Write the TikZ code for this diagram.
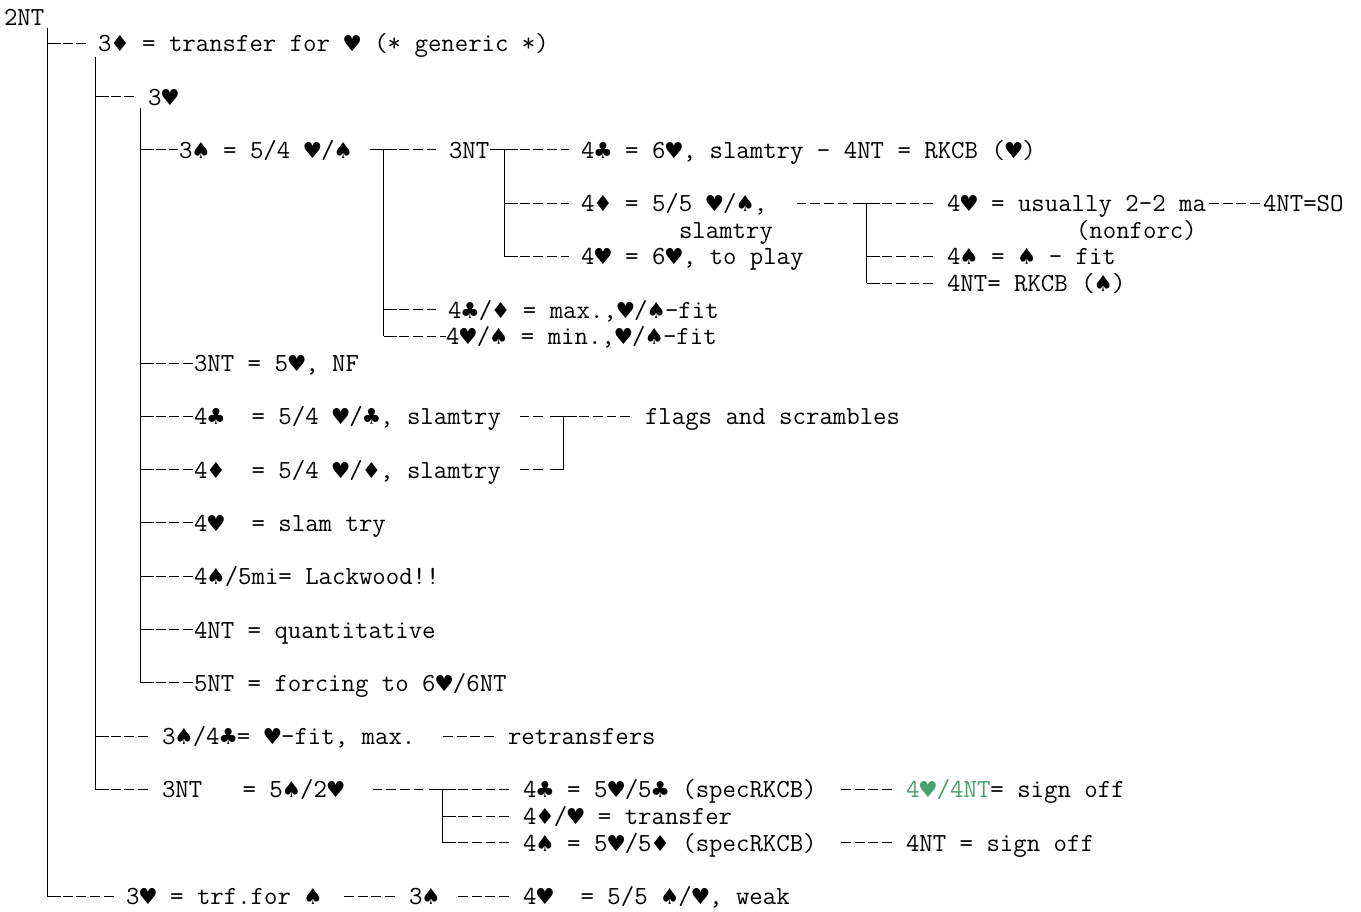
\documentclass[tikz,border=0pt]{standalone}
\usepackage{fontspec}
\newfontfamily\suitfont{DejaVu Sans}
\usetikzlibrary{calc}
\definecolor{sgreen}{RGB}{72,160,110}
\newcommand\suit[1]{\makebox[13pt]{\suitfont\fontsize{16.5pt}{16.5pt}\selectfont #1}}
\newcommand\spd{\suit{♠}}
\newcommand\hrt{\suit{♥}}
\newcommand\dmd{\suit{♦}}
\newcommand\clb{\suit{♣}}
\begin{document}
\begin{tikzpicture}[x=0.75pt,y=-0.75pt,
  txt/.style={anchor=base west,inner sep=0pt,outer sep=0pt,font=\ttfamily\fontsize{19.55pt}{20pt}\selectfont},
  tree/.style={line width=0.7pt},
  dashrun/.style={line width=0.8pt,dash pattern=on 7.4pt off 2.87pt,dash phase=8.77pt}]
\useasboundingbox (0,0) rectangle (1361,912);
% ---------- text nodes ----------
\node[txt] (n2NT)    at (4,25.1)      {2NT};
\node[txt] (n3D)     at (98,51.75)    {3\dmd{} = transfer for \hrt{} (* generic *)};
\node[txt] (n3H)     at (148,105.05)  {3\hrt};
\node[txt] (n3S)     at (179,158.35)  {3\spd{} = 5/4 \hrt/\spd};
\node[txt] (n3NT)    at (449,158.35)  {3NT};
\node[txt] (n4C1)    at (581,158.35)  {4\clb{} = 6\hrt, slamtry - 4NT = RKCB (\hrt)};
\node[txt] (n4D1)    at (581,211.65)  {4\dmd{} = 5/5 \hrt/\spd,};
\node[txt] (n4Hus)   at (947,211.65)  {4\hrt{} = usually 2-2 ma};
\node[txt] (n4NTSO)  at (1263,211.65) {4NT=SO};
\node[txt] (nslam)   at (679,238.3)   {slamtry};
\node[txt] (nnonf)   at (1076,238.3)  {(nonforc)};
\node[txt] (n4H6)    at (581,264.95)  {4\hrt{} = 6\hrt, to play};
\node[txt] (n4Sfit)  at (947,264.95)  {4\spd{} = \spd{} - fit};
\node[txt] (n4NTR)   at (947,291.6)   {4NT= RKCB (\spd)};
\node[txt] (n4CDmax) at (448,318.25)  {4\clb/\dmd{} = max.,\hrt/\spd-fit};
\node[txt] (n4HSmin) at (446,344.9)   {4\hrt/\spd{} = min.,\hrt/\spd-fit};
\node[txt] (n3NTnf)  at (194,371.55)  {3NT = 5\hrt, NF};
\node[txt] (n4Cs)    at (194,424.85)  {4\clb\ \ = 5/4 \hrt/\clb, slamtry};
\node[txt] (nflags)  at (645,424.85)  {flags and scrambles};
\node[txt] (n4Ds)    at (194,478.15)  {4\dmd\ \ = 5/4 \hrt/\dmd, slamtry};
\node[txt] (n4Hst)   at (194,531.45)  {4\hrt\ \ = slam try};
\node[txt] (n4S5)    at (194,584.75)  {4\spd/5mi= Lackwood!!};
\node[txt] (n4NTq)   at (194,638.05)  {4NT = quantitative};
\node[txt] (n5NT)    at (194,691.35)  {5NT = forcing to 6\hrt/6NT};
\node[txt] (n3S4C)   at (162,744.65)  {3\spd/4\clb= \hrt-fit, max.};
\node[txt] (nretr)   at (508,744.65)  {retransfers};
\node[txt] (n3NTb)   at (162,797.95)  {3NT\ \ \ = 5\spd/2\hrt};
\node[txt] (n4Cspec) at (523,797.95)  {4\clb{} = 5\hrt/5\clb{} (specRKCB)};
\node[txt] (nsign1)  at (906,797.95)  {{\color{sgreen}4\hrt/4NT}= sign off};
\node[txt] (n4DHtr)  at (523,824.6)   {4\dmd/\hrt{} = transfer};
\node[txt] (n4Sspec) at (523,851.25)  {4\spd{} = 5\hrt/5\dmd{} (specRKCB)};
\node[txt] (nsign2)  at (906,851.25)  {4NT = sign off};
\node[txt] (n3Htrf)  at (126,904.55)  {3\hrt{} = trf.for \spd};
\node[txt] (n3Sb)    at (409,904.55)  {3\spd};
\node[txt] (n4Hweak) at (523,904.55)  {4\hrt\ \ = 5/5 \spd/\hrt, weak};
% ---------- junctions ----------
\coordinate (v1top) at (47,28);
\coordinate (j1)  at (47,43.25);
\coordinate (j33) at (47,896.05);
\coordinate (v2top) at (95,57);
\coordinate (j3)  at (95,96.55);
\coordinate (j27) at (95,736.15);
\coordinate (j29) at (95,789.45);
\coordinate (v3top) at (140,108);
\coordinate (k5)  at (140,149.85);
\coordinate (k13) at (140,363.05);
\coordinate (k15) at (140,416.35);
\coordinate (k17) at (140,469.65);
\coordinate (k19) at (140,522.95);
\coordinate (k21) at (140,576.25);
\coordinate (k23) at (140,629.55);
\coordinate (k25) at (140,682.85);
\coordinate (m5)  at (383.5,149.85);
\coordinate (m11) at (383.5,309.75);
\coordinate (m12) at (383.5,336.4);
\coordinate (p5)  at (504,149.85);
\coordinate (p7)  at (504,203.15);
\coordinate (p9)  at (504,256.45);
\coordinate (q7)  at (866.5,203.15);
\coordinate (q9)  at (866.5,256.45);
\coordinate (q10) at (866.5,283.1);
\coordinate (s15) at (563.5,416.35);
\coordinate (s17) at (563.5,469.65);
\coordinate (t29) at (442.5,789.45);
\coordinate (t30) at (442.5,816.1);
\coordinate (t31) at (442.5,842.75);
% ---------- vertical trunks ----------
\draw[tree] (v1top) -- (j33);
\draw[tree] (v2top) -- (j29);
\draw[tree] (v3top) -- (k25);
\draw[tree] (m5) -- (m12);
\draw[tree] (p5) -- (p9);
\draw[tree] (q7) -- (q10);
\draw[tree] (s15) -- (s17);
\draw[tree] (t29) -- (t31);
% ---------- branch stubs ----------
\foreach \j in {j1,j33,j3,j27,j29,k5,k13,k15,k17,k19,k21,k23,k25,m11,m12,p7,p9,q9,q10,t30,t31}
  \draw[tree] (\j) -- ++(13.7,0);
\foreach \j in {m5,p5,q7,s15,t29}
  \draw[tree] ($(\j)+(-13.7,0)$) -- ($(\j)+(13.7,0)$);
\draw[tree] ($(s17)+(-13.7,0)$) -- (s17);
% ---------- dashed runs ----------
\draw[dashrun] ($(j1)+(13.7,0)$) -- ($(n3D.base west)+(-12,-8.5)$);
\draw[dashrun] ($(j3)+(13.7,0)$) -- ($(n3H.base west)+(-12,-8.5)$);
\draw[dashrun] ($(k5)+(13.7,0)$) -- ($(n3S.base west)+(-1,-8.5)$);
\draw[dashrun] ($(m5)+(13.7,0)$) -- ($(n3NT.base west)+(-12,-8.5)$);
\draw[dashrun] ($(p5)+(13.7,0)$) -- ($(n4C1.base west)+(-12,-8.5)$);
\draw[dashrun] ($(p7)+(13.7,0)$) -- ($(n4D1.base west)+(-12,-8.5)$);
\draw[dashrun] ($(q7)+(-72,0)$) -- ($(q7)+(-17,0)$);
\draw[dashrun] ($(q7)+(13.7,0)$) -- ($(n4Hus.base west)+(-12,-8.5)$);
\draw[dashrun] ($(n4NTSO.base west)+(-56,-8.5)$) -- ($(n4NTSO.base west)+(-1,-8.5)$);
\draw[dashrun] ($(p9)+(13.7,0)$) -- ($(n4H6.base west)+(-12,-8.5)$);
\draw[dashrun] ($(q9)+(13.7,0)$) -- ($(n4Sfit.base west)+(-12,-8.5)$);
\draw[dashrun] ($(q10)+(13.7,0)$) -- ($(n4NTR.base west)+(-12,-8.5)$);
\draw[dashrun] ($(m11)+(13.7,0)$) -- ($(n4CDmax.base west)+(-12,-8.5)$);
\draw[dashrun] ($(m12)+(13.7,0)$) -- ($(n4HSmin.base west)+(0,-8.5)$);
\draw[dashrun] ($(k13)+(13.7,0)$) -- ($(n3NTnf.base west)+(-1,-8.5)$);
\draw[dashrun] ($(k15)+(13.7,0)$) -- ($(n4Cs.base west)+(-1,-8.5)$);
\draw[dashrun] ($(k17)+(13.7,0)$) -- ($(n4Ds.base west)+(-1,-8.5)$);
\draw[dashrun] ($(k19)+(13.7,0)$) -- ($(n4Hst.base west)+(-1,-8.5)$);
\draw[dashrun] ($(k21)+(13.7,0)$) -- ($(n4S5.base west)+(-1,-8.5)$);
\draw[dashrun] ($(k23)+(13.7,0)$) -- ($(n4NTq.base west)+(-1,-8.5)$);
\draw[dashrun] ($(k25)+(13.7,0)$) -- ($(n5NT.base west)+(-1,-8.5)$);
\draw[dashrun] ($(s15)+(-46,0)$) -- ($(s15)+(-17,0)$);
\draw[dashrun] ($(s15)+(13.7,0)$) -- ($(nflags.base west)+(-12,-8.5)$);
\draw[dashrun] ($(s17)+(-46,0)$) -- ($(s17)+(-17,0)$);
\draw[dashrun] ($(j27)+(13.7,0)$) -- ($(n3S4C.base west)+(-12,-8.5)$);
\draw[dashrun] ($(nretr.base west)+(-67,-8.5)$) -- ($(nretr.base west)+(-12,-8.5)$);
\draw[dashrun] ($(j29)+(13.7,0)$) -- ($(n3NTb.base west)+(-12,-8.5)$);
\draw[dashrun] ($(t29)+(-72,0)$) -- ($(t29)+(-17,0)$);
\draw[dashrun] ($(t29)+(13.7,0)$) -- ($(n4Cspec.base west)+(-12,-8.5)$);
\draw[dashrun] ($(nsign1.base west)+(-67,-8.5)$) -- ($(nsign1.base west)+(-12,-8.5)$);
\draw[dashrun] ($(t30)+(13.7,0)$) -- ($(n4DHtr.base west)+(-12,-8.5)$);
\draw[dashrun] ($(t31)+(13.7,0)$) -- ($(n4Sspec.base west)+(-12,-8.5)$);
\draw[dashrun] ($(nsign2.base west)+(-67,-8.5)$) -- ($(nsign2.base west)+(-12,-8.5)$);
\draw[dashrun] ($(j33)+(13.7,0)$) -- ($(n3Htrf.base west)+(-12,-8.5)$);
\draw[dashrun] ($(n3Sb.base west)+(-67,-8.5)$) -- ($(n3Sb.base west)+(-12,-8.5)$);
\draw[dashrun] ($(n4Hweak.base west)+(-67,-8.5)$) -- ($(n4Hweak.base west)+(-12,-8.5)$);
\end{tikzpicture}
\end{document}
